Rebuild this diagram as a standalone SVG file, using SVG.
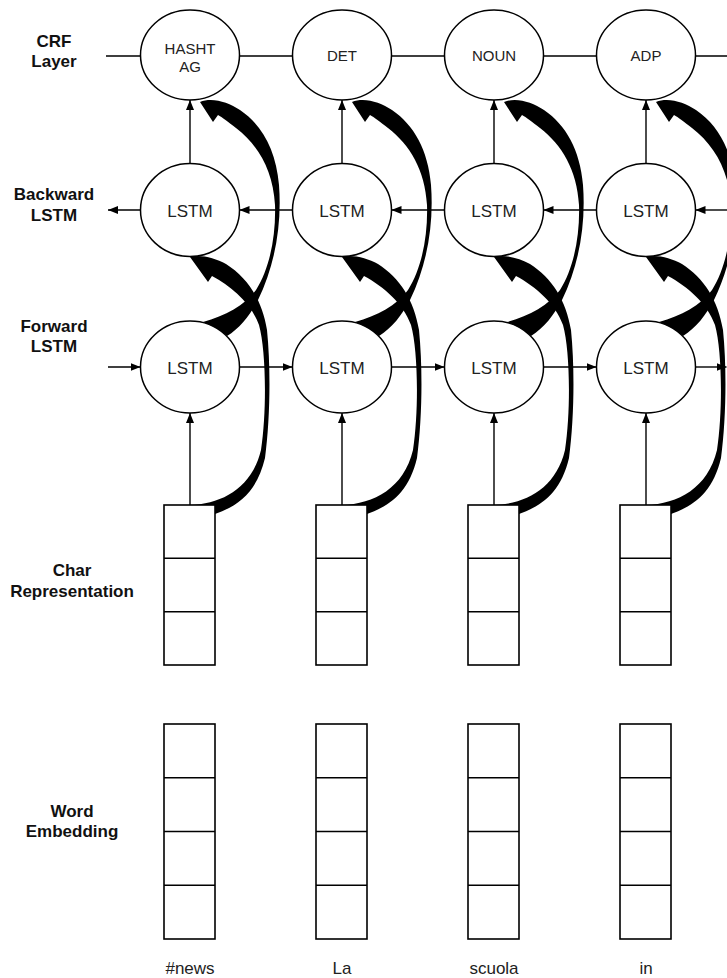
<svg xmlns="http://www.w3.org/2000/svg" width="727" height="978" viewBox="0 0 727 978">
<style>
.ln{fill:none;stroke:#000;stroke-width:1.4}
.ar{fill:none;stroke:#000;stroke-width:1.4;marker-end:url(#ah)}
.brush{fill:#000;stroke:none}
.nd{fill:#fff;stroke:#000;stroke-width:1.5}
.bx{fill:#fff;stroke:#000;stroke-width:1.6}
.t15{font-family:"Liberation Sans",Arial,sans-serif;font-size:15px;text-anchor:middle;fill:#222}
.t17{font-family:"Liberation Sans",Arial,sans-serif;font-size:17px;text-anchor:middle;fill:#222}
.lab{font-family:"Liberation Sans",Arial,sans-serif;font-size:17px;font-weight:bold;text-anchor:middle;fill:#111}
</style>
<defs>
<marker id="ah" viewBox="0 0 10 8" refX="10" refY="4" markerWidth="10" markerHeight="8" markerUnits="userSpaceOnUse" orient="auto">
<path d="M0,0 L10,4 L0,8 z" fill="#000"/>
</marker>
<path id="curveB" d="M190,505 C222,504 252,488 261,450 C267,410 266,350 259,325 C251,303 232,287 212,276 L208,282 L190,257 C200,254 215,258 226,264 C248,278 262,300 267,330 C271,370 270,420 265,458 C257,492 238,506 215,514 L215,505 Z"/>
<path id="curveA" d="M203,322 C225,316 245,305 256,290 C270,268 276,235 275,205 C273,170 258,145 236,128 C228,122 222,117 218,115 L213,122 L200,102 C212,97 228,102 240,110 C262,125 276,150 279,185 C282,225 275,265 258,300 C250,315 240,328 227,336 Z"/>
</defs>
<rect width="727" height="978" fill="#fff"/>

<g id="labels">
<text class="lab" x="54" y="47">CRF</text>
<text class="lab" x="54" y="67">Layer</text>
<text class="lab" x="54" y="200">Backward</text>
<text class="lab" x="54" y="221">LSTM</text>
<text class="lab" x="54" y="332">Forward</text>
<text class="lab" x="54" y="352">LSTM</text>
<text class="lab" x="72" y="576">Char</text>
<text class="lab" x="72" y="597">Representation</text>
<text class="lab" x="72" y="817">Word</text>
<text class="lab" x="72" y="837">Embedding</text>
</g>

<g id="connectors">
<g class="brush">
<use href="#curveA"/><use href="#curveB"/>
<use href="#curveA" transform="translate(152,0)"/><use href="#curveB" transform="translate(152,0)"/>
<use href="#curveA" transform="translate(304,0)"/><use href="#curveB" transform="translate(304,0)"/>
<use href="#curveA" transform="translate(456,0)"/><use href="#curveB" transform="translate(456,0)"/>
</g>
<path class="ln" d="M106,56 H140.5 M239.5,56 H292.5 M391.5,56 H444.5 M543.5,56 H596.5 M695.5,56 H727"/>
<path class="ar" d="M140.5,210 H108"/>
<path class="ar" d="M292.5,210 H239.5"/>
<path class="ar" d="M444.5,210 H391.5"/>
<path class="ar" d="M596.5,210 H543.5"/>
<path class="ar" d="M727,210 H695.5"/>
<path class="ar" d="M108,367 H140.5"/>
<path class="ar" d="M239.5,367 H292.5"/>
<path class="ar" d="M391.5,367 H444.5"/>
<path class="ar" d="M543.5,367 H596.5"/>
<path class="ar" d="M695.5,367 H726.5"/>
<path class="ar" d="M190,505 V413"/>
<path class="ar" d="M342,505 V413"/>
<path class="ar" d="M494,505 V413"/>
<path class="ar" d="M646,505 V413"/>
<path class="ar" d="M190,164 V100"/>
<path class="ar" d="M342,164 V100"/>
<path class="ar" d="M494,164 V100"/>
<path class="ar" d="M646,164 V100"/>
</g>

<g id="crf-hashtag"><ellipse class="nd" cx="190" cy="55" rx="49.5" ry="45"/><text class="t15" x="190" y="53.5">HASHT</text><text class="t15" x="190" y="72">AG</text></g>
<g id="crf-det"><ellipse class="nd" cx="342" cy="55" rx="49.5" ry="45"/><text class="t15" x="342" y="61">DET</text></g>
<g id="crf-noun"><ellipse class="nd" cx="494" cy="55" rx="49.5" ry="45"/><text class="t15" x="494" y="61">NOUN</text></g>
<g id="crf-adp"><ellipse class="nd" cx="646" cy="55" rx="49.5" ry="45"/><text class="t15" x="646" y="61">ADP</text></g>

<g id="bw-1"><ellipse class="nd" cx="190" cy="210" rx="49.5" ry="46.5"/><text class="t17" x="190" y="216.5">LSTM</text></g>
<g id="bw-2"><ellipse class="nd" cx="342" cy="210" rx="49.5" ry="46.5"/><text class="t17" x="342" y="216.5">LSTM</text></g>
<g id="bw-3"><ellipse class="nd" cx="494" cy="210" rx="49.5" ry="46.5"/><text class="t17" x="494" y="216.5">LSTM</text></g>
<g id="bw-4"><ellipse class="nd" cx="646" cy="210" rx="49.5" ry="46.5"/><text class="t17" x="646" y="216.5">LSTM</text></g>

<g id="fw-1"><ellipse class="nd" cx="190" cy="367" rx="49.5" ry="46"/><text class="t17" x="190" y="373.5">LSTM</text></g>
<g id="fw-2"><ellipse class="nd" cx="342" cy="367" rx="49.5" ry="46"/><text class="t17" x="342" y="373.5">LSTM</text></g>
<g id="fw-3"><ellipse class="nd" cx="494" cy="367" rx="49.5" ry="46"/><text class="t17" x="494" y="373.5">LSTM</text></g>
<g id="fw-4"><ellipse class="nd" cx="646" cy="367" rx="49.5" ry="46"/><text class="t17" x="646" y="373.5">LSTM</text></g>

<g id="char-1"><rect class="bx" x="164" y="505" width="51" height="160"/><path class="ln" d="M164,558.3 H215 M164,611.7 H215"/></g>
<g id="char-2"><rect class="bx" x="316" y="505" width="51" height="160"/><path class="ln" d="M316,558.3 H367 M316,611.7 H367"/></g>
<g id="char-3"><rect class="bx" x="468" y="505" width="51" height="160"/><path class="ln" d="M468,558.3 H519 M468,611.7 H519"/></g>
<g id="char-4"><rect class="bx" x="620" y="505" width="51" height="160"/><path class="ln" d="M620,558.3 H671 M620,611.7 H671"/></g>

<g id="word-1"><rect class="bx" x="164" y="724" width="51" height="215"/><path class="ln" d="M164,777.75 H215 M164,831.5 H215 M164,885.25 H215"/><text class="t17" x="190" y="974">#news</text></g>
<g id="word-2"><rect class="bx" x="316" y="724" width="51" height="215"/><path class="ln" d="M316,777.75 H367 M316,831.5 H367 M316,885.25 H367"/><text class="t17" x="342" y="974">La</text></g>
<g id="word-3"><rect class="bx" x="468" y="724" width="51" height="215"/><path class="ln" d="M468,777.75 H519 M468,831.5 H519 M468,885.25 H519"/><text class="t17" x="494" y="974">scuola</text></g>
<g id="word-4"><rect class="bx" x="620" y="724" width="51" height="215"/><path class="ln" d="M620,777.75 H671 M620,831.5 H671 M620,885.25 H671"/><text class="t17" x="646" y="974">in</text></g>
</svg>
